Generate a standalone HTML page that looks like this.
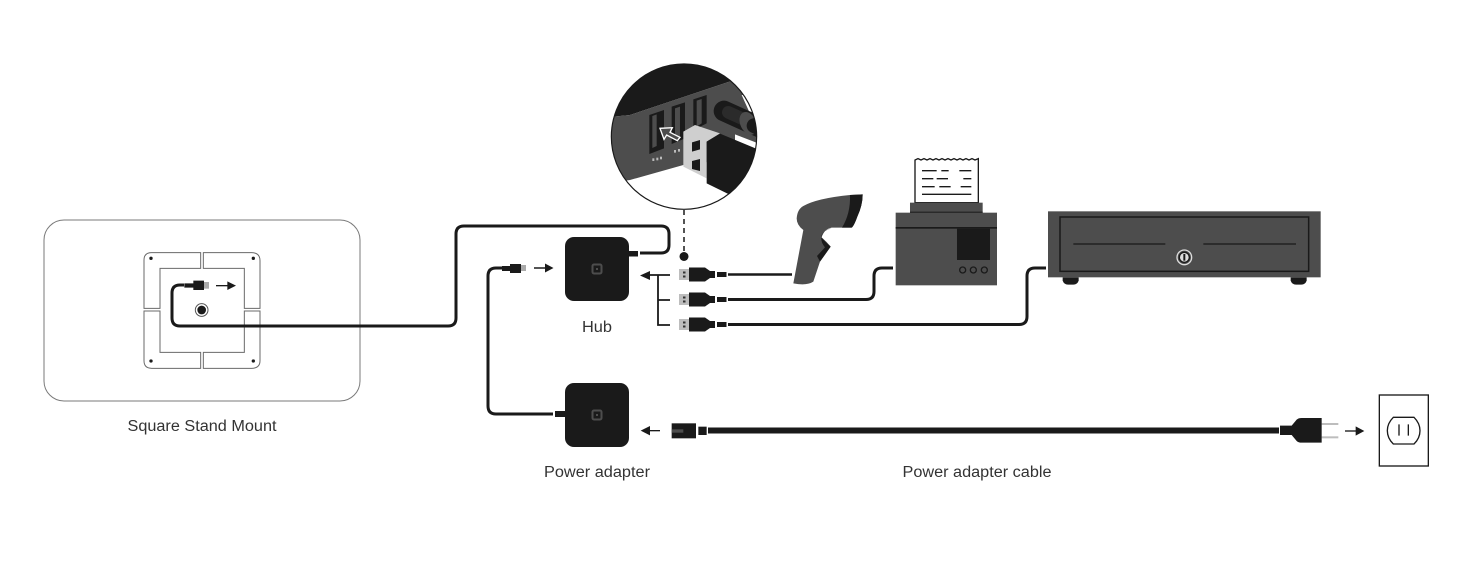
<!DOCTYPE html>
<html>
<head>
<meta charset="utf-8">
<style>
html,body{margin:0;padding:0;background:#fff;width:1464px;height:568px;overflow:hidden}
svg{display:block}
text{font-family:"Liberation Sans",sans-serif;font-size:15.5px;fill:#333}
</style>
</head>
<body>
<svg width="1464" height="568" viewBox="0 0 1464 568" xmlns="http://www.w3.org/2000/svg">
<defs>
<clipPath id="c"><circle cx="252" cy="245" r="218"/></clipPath>
<g id="usb">
  <rect x="679" y="-5.500" width="10.500" height="11" fill="#bdbdbd"/>
  <rect x="683" y="-3" width="2.500" height="2" fill="#333"/>
  <rect x="683" y="1" width="2.500" height="2" fill="#333"/>
  <path d="M689-7H705L710-3.500H715V3.500H710L705 7H689Z" fill="#1a1a1a"/>
  <rect x="717" y="-2.500" width="9.500" height="5" fill="#1a1a1a"/>
</g>
<g id="sq">
  <rect width="64" height="64" rx="9" fill="#1a1a1a"/>
  <rect x="27.500" y="27.500" width="9" height="9" rx="1.500" fill="none" stroke="#4d4d4d" stroke-width="2"/>
  <rect x="31" y="31" width="2" height="2" fill="#4d4d4d"/>
</g>
</defs>

<!-- Stand mount -->
<rect x="44" y="220" width="316" height="181" rx="20" fill="#fff" stroke="#7a7a7a" stroke-width="1"/>
<g transform="translate(130,240) scale(.33333)">
  <g fill="none" stroke="#6a6a6a" stroke-width="3">
    <path d="M212 38H65Q42 38 42 60V205H90V85H212Z"/>
    <path d="M220 38H365Q390 38 390 62V205H343V85H220Z"/>
    <path d="M42 213V362Q42 385 65 385H212V337H90V213Z"/>
    <path d="M220 385H365Q390 385 390 362V213H343V337H220Z"/>
  </g>
  <g fill="#1a1a1a">
    <circle cx="63" cy="55" r="5"/><circle cx="370" cy="55" r="5"/>
    <circle cx="63" cy="363" r="5"/><circle cx="370" cy="363" r="5"/>
    <circle cx="215" cy="210" r="13"/>
  </g>
  <circle cx="215" cy="210" r="19" fill="none" stroke="#555" stroke-width="3"/>
  <path d="M258 137H296" stroke="#1a1a1a" stroke-width="4"/>
  <path d="M292 124L318 137L292 150Z" fill="#1a1a1a"/>
  <rect x="222" y="126" width="15" height="20" fill="#aaa"/>
  <path d="M190 122H222V150H190V143H163V130H190Z" fill="#1a1a1a"/>
</g>

<!-- Main cable -->
<path d="M184 285H180Q172 285 172 293V318Q172 326 180 326H448Q456 326 456 318V234Q456 226 464 226H661Q669 226 669 234V245Q669 253 661 253H640" fill="none" stroke="#1a1a1a" stroke-width="3"/>
<rect x="629" y="251" width="9" height="5.500" fill="#1a1a1a"/>

<!-- Hub / adapter -->
<use href="#sq" x="565" y="237"/>
<use href="#sq" x="565" y="383"/>
<text x="597" y="332" text-anchor="middle" textLength="30" lengthAdjust="spacingAndGlyphs">Hub</text>
<text x="597" y="477" text-anchor="middle" textLength="106" lengthAdjust="spacingAndGlyphs">Power adapter</text>
<text x="977" y="477" text-anchor="middle" textLength="149" lengthAdjust="spacingAndGlyphs">Power adapter cable</text>
<text x="202" y="431" text-anchor="middle" textLength="149" lengthAdjust="spacingAndGlyphs">Square Stand Mount</text>

<!-- Adapter to hub cable -->
<path d="M502 268H496Q488 268 488 276V406Q488 414 496 414H553" fill="none" stroke="#1a1a1a" stroke-width="3"/>
<path d="M502 266H510V264H521V273H510V271H502Z" fill="#1a1a1a"/>
<rect x="521" y="265" width="5" height="6" fill="#aaa"/>
<rect x="555" y="411" width="10" height="6" fill="#1a1a1a"/>
<path d="M534 268H546" stroke="#1a1a1a" stroke-width="1.500"/>
<path d="M545 263.500L553.500 268L545 272.500Z" fill="#1a1a1a"/>

<!-- Bracket and arrow -->
<path d="M670 275H648M658 275V325H670M658 300H670" fill="none" stroke="#1a1a1a" stroke-width="1.800"/>
<path d="M640 275.500L650 271V280Z" fill="#1a1a1a"/>

<!-- USB -->
<use href="#usb" y="274.500"/>
<use href="#usb" y="299.500"/>
<use href="#usb" y="324.500"/>

<!-- Cables to devices -->
<path d="M728 274.500H792" stroke="#1a1a1a" stroke-width="2.500"/>
<path d="M728 299.500H866Q874 299.500 874 291.500V276Q874 268 882 268H893" fill="none" stroke="#1a1a1a" stroke-width="3"/>
<path d="M728 324.500H1019Q1027 324.500 1027 316.500V276Q1027 268 1035 268H1046" fill="none" stroke="#1a1a1a" stroke-width="3"/>

<!-- Scanner -->
<g transform="translate(780,150) scale(.33333)">
  <path d="M50 205Q52 178 70 168Q110 145 210 135L248 133Q248 165 232 200Q222 228 215 233H155Q132 238 125 262Q140 275 152 290L120 335L100 395Q80 408 40 400L70 240Q50 225 50 205Z" fill="#4d4d4d"/>
  <path d="M210 135L248 133Q248 165 232 200Q222 228 215 233H186Q212 190 210 135Z" fill="#1a1a1a"/>
  <path d="M155 235Q130 238 124 262Q138 278 152 290L120 335L111 318L135 292Q120 275 125 255Q132 240 155 235Z" fill="#1a1a1a"/>
</g>

<!-- Printer -->
<g transform="translate(780,150) scale(.33333)">
  <path d="M405 158V30L414 26L423 30L432 26L441 30L450 26L459 30L468 26L477 30L486 26L495 30L504 26L513 30L522 26L531 30L540 26L549 30L558 26L567 30L576 26L585 30L595 26V158Z" fill="#fff" stroke="#1a1a1a" stroke-width="4"/>
  <path d="M426 62H470M484 62H506M538 62H574M426 86H460M470 86H504M550 86H574M426 110H464M478 110H512M542 110H574M426 133H574" stroke="#1a1a1a" stroke-width="4" fill="none"/>
  <rect x="390" y="158" width="218" height="30" fill="#4d4d4d"/>
  <rect x="390" y="185" width="218" height="4" fill="#1a1a1a"/>
  <rect x="347" y="188" width="304" height="218" fill="#4d4d4d"/>
  <rect x="347" y="231" width="304" height="5" fill="#1a1a1a"/>
  <rect x="531" y="236" width="99" height="94" fill="#1a1a1a"/>
  <g fill="none" stroke="#1a1a1a" stroke-width="4">
    <circle cx="548" cy="360" r="9"/><circle cx="580" cy="360" r="9"/><circle cx="613" cy="360" r="9"/>
  </g>
</g>

<!-- Cash drawer -->
<g transform="translate(1020,200) scale(.33333)">
  <path d="M128 232H176V242Q172 254 160 254H144Q132 254 128 242Z" fill="#1a1a1a"/>
  <path d="M812 232H860V242Q856 254 844 254H828Q816 254 812 242Z" fill="#1a1a1a"/>
  <rect x="84" y="34" width="818" height="198" fill="#4d4d4d"/>
  <rect x="120" y="51" width="746" height="163" fill="none" stroke="#1a1a1a" stroke-width="4.500"/>
  <path d="M160 132H436M550 132H828" stroke="#1a1a1a" stroke-width="4"/>
  <circle cx="493" cy="172" r="22" fill="#4d4d4d" stroke="#ddd" stroke-width="4"/>
  <circle cx="493" cy="172" r="15" fill="#ddd" stroke="#1a1a1a" stroke-width="4"/>
  <rect x="490" y="162" width="6" height="20" fill="#1a1a1a"/>
</g>

<!-- Power cable -->
<rect x="708" y="427.500" width="571" height="6" fill="#1a1a1a"/>
<g transform="translate(480,370) scale(.33333)">
  <path d="M482 182L510 168V196Z" fill="#1a1a1a"/>
  <path d="M505 182H540" stroke="#1a1a1a" stroke-width="4"/>
  <rect x="575" y="160" width="73" height="45" fill="#1a1a1a"/>
  <rect x="575" y="178" width="35" height="10" fill="#4d4d4d"/>
  <rect x="655" y="170" width="25" height="25" fill="#1a1a1a"/>
</g>

<!-- Plug and outlet -->
<g transform="translate(1260,385) scale(.33333)">
  <rect x="185" y="114" width="50" height="6" fill="#bdbdbd"/>
  <rect x="185" y="154" width="50" height="6" fill="#bdbdbd"/>
  <path d="M60 122H95L110 104Q115 99 125 99H185V173H125Q115 173 110 168L95 150H60Z" fill="#1a1a1a"/>
  <path d="M255 138H290" stroke="#1a1a1a" stroke-width="4"/>
  <path d="M287 124L313 138L287 152Z" fill="#1a1a1a"/>
  <rect x="358" y="30" width="147" height="213" fill="#fff" stroke="#1a1a1a" stroke-width="4"/>
  <path d="M400 97H462Q480 115 480 137Q480 160 462 177H400Q382 160 382 137Q382 115 400 97Z" fill="none" stroke="#1a1a1a" stroke-width="4"/>
  <path d="M417 118V152M445 118V152" stroke="#1a1a1a" stroke-width="4"/>
</g>

<!-- Dashed leader -->
<path d="M684 210V252" stroke="#1a1a1a" stroke-width="1.500" stroke-dasharray="5 4"/>
<circle cx="684" cy="256.500" r="4.500" fill="#1a1a1a"/>

<!-- Magnified circle -->
<g transform="translate(600,55) scale(.33333)">
  <circle cx="252" cy="245" r="218" fill="#fff"/>
  <g clip-path="url(#c)">
    <path d="M20 0H500V40L394 78L120 170L90 180L20 187Z" fill="#1a1a1a"/>
    <path d="M20 187L90 180L120 170L394 78L500 60V300L250 330L90 375L20 385Z" fill="#4d4d4d"/>
    <path d="M425 120H490V185L452 180Z" fill="#fff"/>
    <path d="M372 168L520 235" stroke="#1a1a1a" stroke-width="62" stroke-linecap="round"/>
    <path d="M385 172L440 197" stroke="#2b2b2b" stroke-width="38" stroke-linecap="round"/>
    <ellipse cx="445" cy="205" rx="24" ry="36" transform="rotate(-25 445 205)" fill="#4d4d4d"/>
    <path d="M462 212L520 240" stroke="#1a1a1a" stroke-width="44" stroke-linecap="round"/>
    <path d="M148 180L192 165V280L148 297Z" fill="#1a1a1a"/>
    <path d="M157 183L170 178V273L157 279Z" fill="#4d4d4d"/>
    <path d="M215 155L255 142V250L215 267Z" fill="#1a1a1a"/>
    <path d="M225 160L240 155V245L225 253Z" fill="#4d4d4d"/>
    <path d="M280 133L320 120V205L280 225Z" fill="#1a1a1a"/>
    <path d="M290 137L305 132V205L290 215Z" fill="#4d4d4d"/>
    <g fill="#bbb">
      <rect x="157" y="310" width="6" height="8"/><rect x="169" y="308" width="6" height="8"/><rect x="180" y="305" width="6" height="8"/>
      <rect x="222" y="285" width="6" height="8"/><rect x="234" y="282" width="6" height="8"/>
    </g>
    <path d="M405 238L500 275V310L405 270Z" fill="#fff"/>
    <path d="M250 230L285 210L360 235L320 260V370L250 335Z" fill="#cfcfcf"/>
    <path d="M276 262L300 255V283L276 290Z" fill="#1a1a1a"/>
    <path d="M276 318L300 312V348L276 342Z" fill="#1a1a1a"/>
    <path d="M320 260L360 236L490 290V430L385 417L320 385Z" fill="#1a1a1a"/>
    <path d="M180 220L217 218L210 232L240 247L232 257L200 240L192 253Z" fill="#4d4d4d" stroke="#fff" stroke-width="4" stroke-linejoin="miter"/>
  </g>
  <circle cx="252" cy="245" r="218" fill="none" stroke="#1a1a1a" stroke-width="3.500"/>
</g>
</svg>
</body>
</html>
